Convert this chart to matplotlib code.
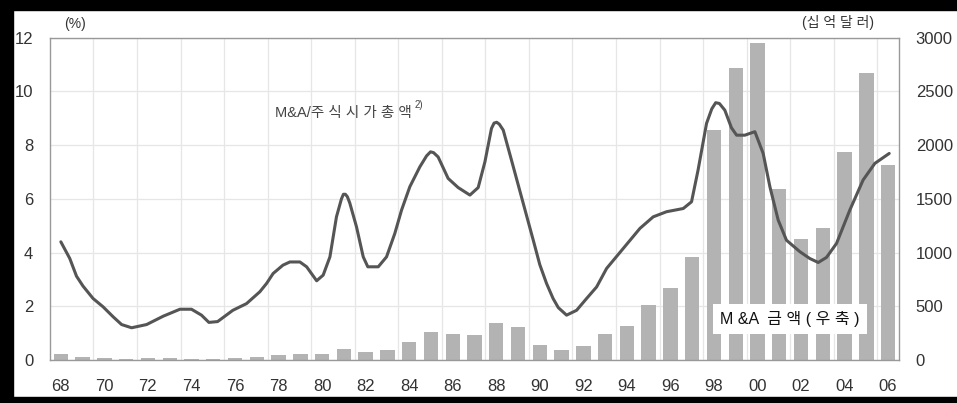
import matplotlib
matplotlib.use('Agg')
import matplotlib.pyplot as plt
from matplotlib.patches import Rectangle
import numpy as np

plt.rcParams['font.family'] = ['Liberation Sans', 'Noto Sans CJK KR', 'DejaVu Sans']

# M&A amount (billion USD, right axis)
years = list(range(1968, 2007))
ma_amount = [55, 30, 20, 8, 20, 20, 8, 8, 20, 30,
             45, 55, 55, 105, 70, 93, 170, 258, 245, 230,
             342, 305, 140, 93, 130, 242, 317, 509, 670, 960,
             2141, 2716, 2954, 1589, 1124, 1226, 1939, 2669, 1815]

# M&A / market cap (%, left axis)
line_t = [1968.00, 1968.41, 1968.72, 1969.02, 1969.48, 1969.94, 1970.40, 1970.79,
          1971.25, 1971.94, 1972.70, 1973.47, 1974.00, 1974.46, 1974.80, 1975.20,
          1975.90, 1976.53, 1977.14, 1977.45, 1977.75, 1978.20, 1978.52, 1978.98,
          1979.29, 1979.75, 1980.05, 1980.36, 1980.66, 1980.89, 1980.98, 1981.07,
          1981.16, 1981.27, 1981.58, 1981.89, 1982.10, 1982.58, 1982.96, 1983.34,
          1983.65, 1984.03, 1984.49, 1984.80, 1984.98, 1985.12, 1985.33, 1985.79,
          1986.25, 1986.79, 1987.17, 1987.48, 1987.78, 1987.90, 1988.02, 1988.14,
          1988.32, 1988.70, 1989.24, 1989.70, 1990.00, 1990.31, 1990.61, 1990.85,
          1991.23, 1991.69, 1992.15, 1992.61, 1993.07, 1993.83, 1994.60, 1995.21,
          1995.82, 1996.59, 1996.97, 1997.27, 1997.66, 1997.90, 1998.08, 1998.25,
          1998.50, 1998.80, 1999.04, 1999.42, 1999.70, 1999.88, 2000.26, 2000.57,
          2000.95, 2001.33, 2001.95, 2002.40, 2002.79, 2003.17, 2003.63, 2004.24,
          2004.85, 2005.39, 2006.05]
line_v = [4.40, 3.78, 3.12, 2.75, 2.29, 1.98, 1.61, 1.32,
          1.20, 1.32, 1.63, 1.89, 1.89, 1.67, 1.40, 1.43,
          1.85, 2.10, 2.54, 2.85, 3.22, 3.53, 3.65, 3.65,
          3.47, 2.95, 3.16, 3.84, 5.33, 6.00, 6.17, 6.17,
          6.08, 5.85, 4.96, 3.84, 3.47, 3.47, 3.84, 4.71,
          5.58, 6.45, 7.19, 7.60, 7.75, 7.72, 7.56, 6.76,
          6.42, 6.14, 6.42, 7.38, 8.62, 8.82, 8.85, 8.78,
          8.56, 7.44, 5.83, 4.46, 3.55, 2.85, 2.29, 1.95,
          1.67, 1.85, 2.29, 2.72, 3.41, 4.15, 4.90, 5.33,
          5.52, 5.64, 5.89, 7.07, 8.81, 9.35, 9.58, 9.55,
          9.30, 8.65, 8.37, 8.37, 8.45, 8.50, 7.69, 6.45,
          5.21, 4.46, 4.03, 3.78, 3.63, 3.82, 4.34, 5.58,
          6.70, 7.32, 7.69]

xtick_years = years[::2]
xtick_labels = ['%02d' % (y % 100) for y in xtick_years]

fig = plt.figure(figsize=(9.57, 4.03), dpi=100)
ax2 = fig.add_axes([0.0522, 0.1067, 0.8872, 0.7998])
ax = ax2.twinx()

# bars on right scale (behind)
ax2.bar(years, ma_amount, width=0.66, color='#b3b3b3', zorder=2)
ax2.set_ylim(0, 3000)
ax2.set_yticks(np.arange(0, 3001, 500))
ax2.set_xlim(1967.5, 2006.5)
ax2.set_xticks(xtick_years)
ax2.set_xticklabels(xtick_labels)
ax2.set_xticks(np.arange(1969.5, 2006, 2), minor=True)
ax2.grid(axis='y', color='#e6e6e6', lw=0.9, zorder=0)
ax2.grid(axis='x', which='minor', color='#e6e6e6', lw=0.9, zorder=0)
ax2.yaxis.tick_right()
ax2.tick_params(axis='y', length=0, pad=12, labelsize=12, colors='#333333')
ax2.tick_params(axis='x', which='both', length=0, pad=14, labelsize=12, colors='#333333')
for s in ax2.spines.values():
    s.set_visible(False)

# line on left scale (front)
ax.set_zorder(ax2.get_zorder() + 1)
ax.patch.set_visible(False)
ax.plot(line_t, line_v, color='#555555', lw=2.2, solid_joinstyle='round',
        solid_capstyle='round')
ax.set_ylim(0, 12)
ax.set_yticks(np.arange(0, 13, 2))
ax.yaxis.tick_left()
ax.tick_params(axis='y', length=0, pad=12, labelsize=12, colors='#333333')
for s in ax.spines.values():
    s.set_color('#999999')
    s.set_linewidth(1.0)

lbl = ax.text(1977.85, 9.19, 'M&A/주 식 시 가 총 액', fontsize=10.5, color='#444444',
              ha='left', va='center')
ax.annotate('2)', xy=(1, 0.75), xycoords=lbl, xytext=(2, 0), textcoords='offset points',
            fontsize=7, color='#444444', ha='left', va='bottom')
ax.text(2001.5, 1.52, 'M &A  금 액 ( 우 축 )', fontsize=11.5, color='#111111',
        ha='center', va='center', zorder=5,
        bbox=dict(facecolor='white', edgecolor='none', boxstyle='square,pad=0.45'))

fig.text(75 / 957, 1 - 24 / 403, '(%)', fontsize=10, color='#333333',
         ha='center', va='center')
fig.text(838 / 957, 1 - 23 / 403, '(십 억 달 러)', fontsize=10, color='#333333',
         ha='center', va='center')

# black frame
fig.patches.append(Rectangle((0, 1 - 10 / 403), 1, 10 / 403, transform=fig.transFigure,
                             color='black', zorder=10))
fig.patches.append(Rectangle((0, 0), 13 / 957, 1, transform=fig.transFigure,
                             color='black', zorder=10))
fig.patches.append(Rectangle((0, 0), 1, 6 / 403, transform=fig.transFigure,
                             color='black', zorder=10))

fig.savefig('out.png', dpi=100)
